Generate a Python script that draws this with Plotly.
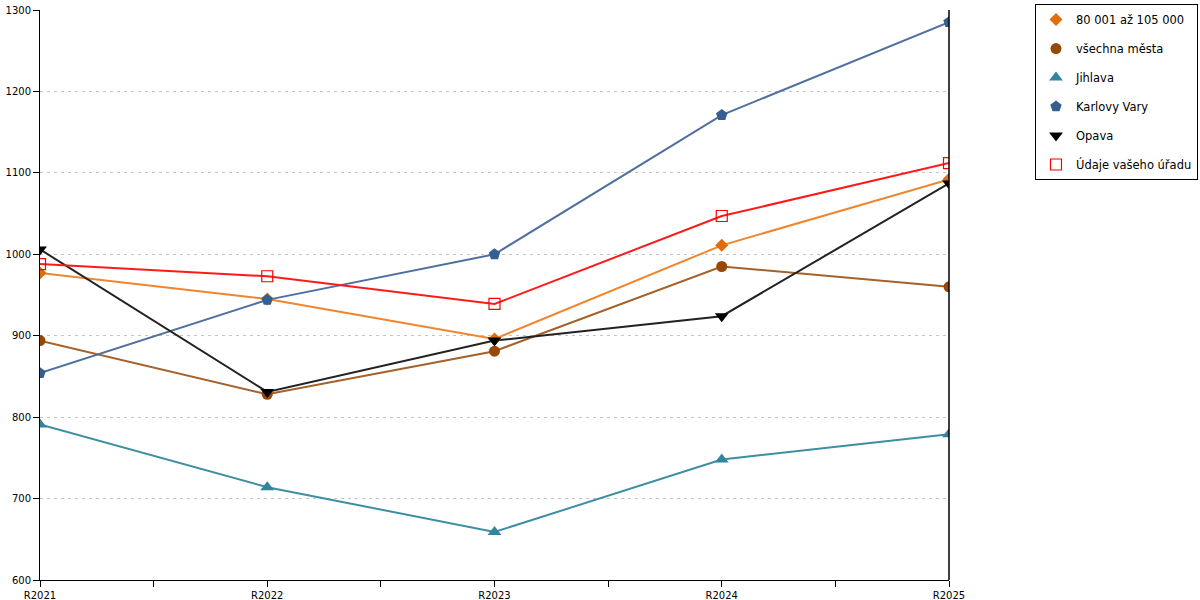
import plotly.graph_objects as go

# data
years = ["R2021", "R2022", "R2023", "R2024", "R2025"]

band_80_105 = [977, 945, 896, 1011, 1092]
all_cities = [894, 828, 881, 985, 960]
jihlava = [791, 714, 659, 748, 779]
karlovy_vary = [854, 944, 1000, 1171, 1285]
opava = [1006, 831, 894, 924, 1087]
your_office = [988, 973, 939, 1047, 1112]

y_ticks = [600, 700, 800, 900, 1000, 1100, 1200, 1300]

series = [
    ("80 001 až 105 000", band_80_105, "#f0852d", dict(symbol="diamond", color="#e36c0a", size=10)),
    ("všechna města", all_cities, "#a5612a", dict(symbol="circle", color="#974806", size=11)),
    ("Jihlava", jihlava, "#3e8ea3", dict(symbol="triangle-up", color="#31859c", size=12)),
    ("Karlovy Vary", karlovy_vary, "#4f709f", dict(symbol="pentagon", color="#365f91", size=12)),
    ("Opava", opava, "#222222", dict(symbol="triangle-down", color="#000000", size=12)),
    ("Údaje vašeho úřadu", your_office, "#ff1a1a",
     dict(symbol="square-open", color="#ff0000", size=11, line=dict(width=1.2))),
]

x_idx = list(range(len(years)))

fig = go.Figure()
for name, vals, line_col, marker in series:
    fig.add_trace(go.Scatter(x=x_idx, y=vals, mode="lines", name=name,
                             line=dict(color=line_col, width=2),
                             legendgroup=name, showlegend=False, hoverinfo="skip"))
for name, vals, line_col, marker in series:
    fig.add_trace(go.Scatter(x=x_idx, y=vals, mode="markers", name=name,
                             marker=marker, legendgroup=name))

fig.update_layout(
    width=1200, height=600,
    margin=dict(l=40, r=251, t=10, b=20, autoexpand=False),
    plot_bgcolor="white", paper_bgcolor="white",
    font=dict(family="DejaVu Sans", size=10, color="#000000"),
    legend=dict(x=1.0946, y=1.0105, xanchor="left", yanchor="top",
                bordercolor="#000000", borderwidth=1,
                font=dict(size=11.5), tracegroupgap=10,
                itemwidth=30),
    showlegend=True,
)

fig.update_xaxes(
    range=[0, len(years) - 1],
    tickmode="array", tickvals=x_idx, ticktext=years,
    showgrid=False, zeroline=False, automargin=False,
    showline=True, linecolor="#000000", linewidth=1,
    ticks="outside", ticklen=6, tickcolor="#000000",
    minor=dict(tickmode="array", tickvals=[i + 0.5 for i in x_idx[:-1]],
               ticks="outside", ticklen=6, tickcolor="#000000", showgrid=False),
)
fig.update_yaxes(
    range=[y_ticks[0], y_ticks[-1]],
    tickmode="array", tickvals=y_ticks,
    showgrid=True, gridcolor="#c4c4c4", griddash="3px,4px", gridwidth=1,
    zeroline=False, automargin=False,
    showline=True, linecolor="#000000", linewidth=1,
    ticks="outside", ticklen=6, tickcolor="#000000",
)

# right-hand frame line
fig.add_shape(type="line", xref="paper", yref="paper", x0=1, x1=1, y0=0, y1=1,
              line=dict(color="#000000", width=1.5))

# drop the default page margin so the figure sits at the window's corner
fig.write_html("out.html", config={"displayModeBar": False},
               post_script="document.body.style.margin='0';")
